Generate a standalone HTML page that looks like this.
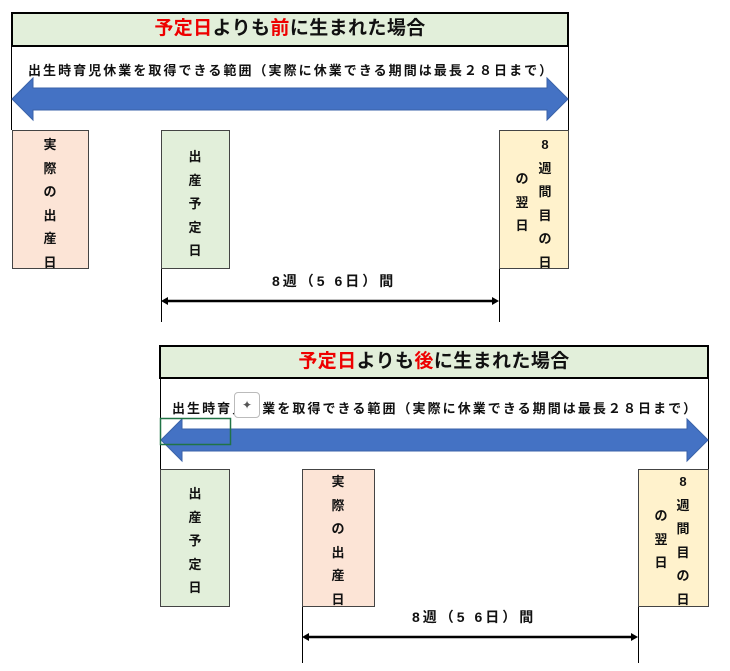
<!DOCTYPE html>
<html><head><meta charset="utf-8"><style>
body{margin:0;width:730px;height:671px;background:#fff;position:relative;overflow:hidden;font-family:"Liberation Sans","Noto Sans CJK JP",sans-serif;}
.a{position:absolute;}
.title{box-sizing:border-box;border:2px solid #000;background:#e2efda;text-align:center;font-weight:bold;font-size:19px;letter-spacing:0.4px;line-height:30px;color:#111;}
.r{color:#e00;}
.sub{font-size:13px;font-weight:bold;white-space:nowrap;color:#111;letter-spacing:2.05px;}
.box{box-sizing:border-box;border:1px solid #444;}
.col{position:absolute;font-size:13px;font-weight:bold;line-height:23.5px;width:14px;text-align:center;color:#111;}
.lbl{font-size:14px;font-weight:bold;white-space:nowrap;color:#111;letter-spacing:3px;}
</style></head><body>
<svg class="a" style="left:0;top:0" width="730" height="671">
<g stroke="#000" stroke-width="1" fill="none">
<line x1="11.5" y1="46" x2="11.5" y2="130"/><line x1="568.5" y1="46" x2="568.5" y2="130"/>
<line x1="161.5" y1="268" x2="161.5" y2="322"/><line x1="499.5" y1="268" x2="499.5" y2="322"/>
<line x1="160.5" y1="378" x2="160.5" y2="469"/><line x1="708.5" y1="378" x2="708.5" y2="469"/>
<line x1="302.5" y1="606" x2="302.5" y2="663"/><line x1="638.5" y1="606" x2="638.5" y2="663"/>
</g>
<polygon points="12,99 33,78 33,88 547,88 547,78 568,99 547,120 547,110 33,110 33,120" fill="#4472c4" stroke="#3a62a8"/>
<polygon points="161,440 182,419 182,429 687,429 687,419 708,440 687,461 687,451 182,451 182,461" fill="#4472c4" stroke="#3a62a8"/>
<g stroke="#000" stroke-width="2.5"><line x1="166" y1="301" x2="494" y2="301"/><line x1="307" y1="637" x2="633" y2="637"/></g>
<polygon points="161,301 168,297 168,305" fill="#000"/><polygon points="499,301 492,297 492,305" fill="#000"/>
<polygon points="302,637 309,633 309,641" fill="#000"/><polygon points="638,637 631,633 631,641" fill="#000"/>
<rect x="160.5" y="418.5" width="70" height="26" fill="none" stroke="#217346" stroke-width="1.5"/>
</svg>
<div class="a title" style="left:11px;top:12px;width:558px;height:35px;"><span class="r">予定日</span>よりも<span class="r">前</span>に生まれた場合</div>
<div class="a sub" style="left:28px;top:60px;">出生時育児休業を取得できる範囲（実際に休業できる期間は最長２８日まで）</div>
<div class="a box" style="left:12px;top:130px;width:77px;height:139px;background:#fce4d6;"><div class="col" style="left:30px;top:2px;">実際の出産日</div></div>
<div class="a box" style="left:161px;top:130px;width:69px;height:139px;background:#e2efda;"><div class="col" style="left:26px;top:14px;">出産予定日</div></div>
<div class="a box" style="left:499px;top:130px;width:70px;height:139px;background:#fff2cc;"><div class="col" style="left:38px;top:2px;">8週間目の日</div><div class="col" style="left:15px;top:36px;">の翌日</div></div>
<div class="a lbl" style="left:272px;top:271px;">8週（5 6日）間</div>

<div class="a title" style="left:159px;top:345px;width:550px;height:34px;"><span class="r">予定日</span>よりも<span class="r">後</span>に生まれた場合</div>
<div class="a sub" style="left:172px;top:398px;">出生時育児休業を取得できる範囲（実際に休業できる期間は最長２８日まで）</div>
<div class="a" style="left:234px;top:392px;width:24px;height:24px;background:#fff;border:1px solid #bbb;border-radius:4px;font-size:12px;text-align:center;line-height:24px;color:#555;">✦</div>
<div class="a box" style="left:160px;top:469px;width:70px;height:138px;background:#e2efda;"><div class="col" style="left:27px;top:12px;">出産予定日</div></div>
<div class="a box" style="left:302px;top:469px;width:73px;height:138px;background:#fce4d6;"><div class="col" style="left:28px;top:0px;">実際の出産日</div></div>
<div class="a box" style="left:638px;top:469px;width:71px;height:138px;background:#fff2cc;"><div class="col" style="left:37px;top:0px;">8週間目の日</div><div class="col" style="left:15px;top:34px;">の翌日</div></div>
<div class="a lbl" style="left:412px;top:607px;">8週（5 6日）間</div>
</body></html>
